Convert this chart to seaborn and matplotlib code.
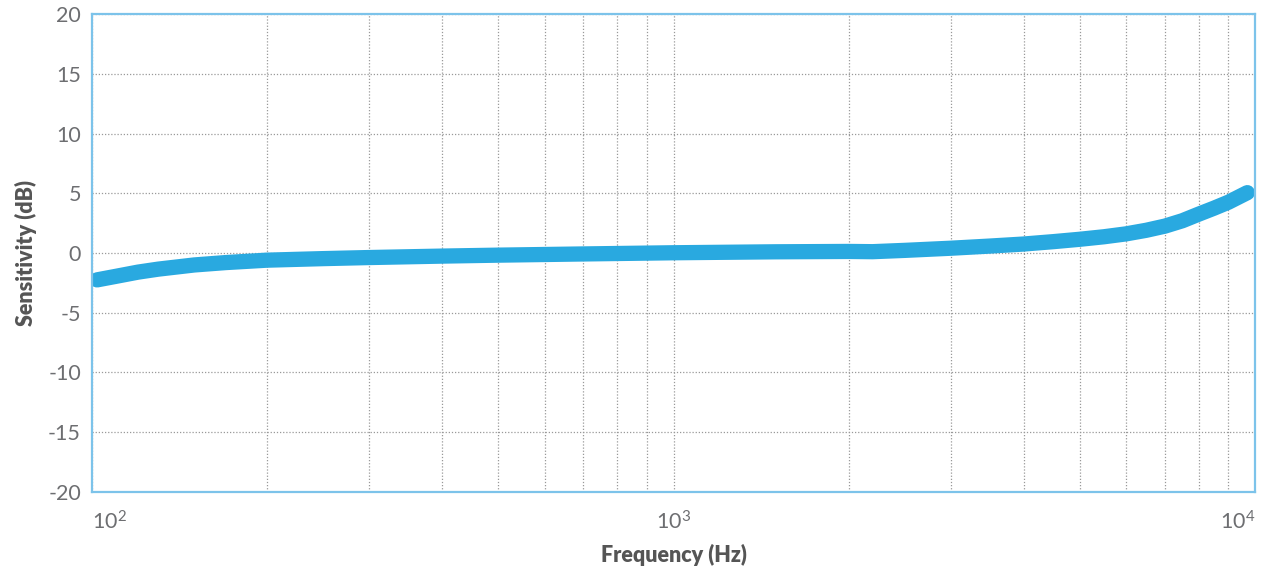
import numpy as np
import pandas as pd
import matplotlib
matplotlib.use("Agg")
import matplotlib.pyplot as plt
import matplotlib.ticker as mticker
import seaborn as sns

# frequency response
freq_hz = [102, 110, 120, 130, 150, 170, 200, 250, 300, 400, 500, 700, 1000,
           1500, 2000, 2200, 2500, 3000, 3500, 4000, 4500, 5000, 5500, 6000,
           6500, 7000, 7500, 8000, 8500, 9000, 9700]
sens_db = [-2.25, -1.95, -1.6, -1.35, -1.0, -0.8, -0.6, -0.47, -0.38, -0.26, -0.18,
           -0.08, 0.02, 0.1, 0.13, 0.11, 0.22, 0.4, 0.58, 0.75, 0.95, 1.15, 1.36,
           1.6, 1.9, 2.25, 2.7, 3.25, 3.75, 4.25, 5.05]

y_ticks = [-20, -15, -10, -5, 0, 5, 10, 15, 20]
x_ticks = [100, 1000, 10000]
x_tick_labels = ["$10^2$", "$10^3$", "$10^4$"]

df = pd.DataFrame({"freq": freq_hz, "sens": sens_db})

sns.set_theme(style="white")
plt.rcParams["font.family"] = ["Lato", "DejaVu Sans"]
plt.rcParams["mathtext.fontset"] = "custom"
plt.rcParams["mathtext.rm"] = "Lato"
plt.rcParams["mathtext.it"] = "Lato"
plt.rcParams["axes.unicode_minus"] = False

fig = plt.figure(figsize=(12.64, 5.67), dpi=100)
ax = fig.add_axes([0.0728, 0.1323, 0.9201, 0.843])

sns.lineplot(data=df, x="freq", y="sens", ax=ax, color="#29a9e0",
             linewidth=11, solid_capstyle="round", solid_joinstyle="round")

ax.set_xscale("log")
ax.set_xlim(100, 10000)
ax.set_ylim(-20, 20)
ax.set_yticks(y_ticks)
ax.set_xticks(x_ticks)
ax.set_xticklabels(x_tick_labels)
ax.xaxis.set_minor_locator(mticker.LogLocator(base=10, subs=np.arange(2, 10)))
ax.xaxis.set_minor_formatter(mticker.NullFormatter())

for lab, ha in zip(ax.get_xticklabels(), ["left", "center", "right"]):
    lab.set_horizontalalignment(ha)

ax.grid(True, which="both", axis="x", color="#999999", linestyle=(0, (1, 1.5)), linewidth=0.9)
ax.grid(True, which="major", axis="y", color="#999999", linestyle=(0, (1, 1.5)), linewidth=0.9)

ax.tick_params(axis="both", which="both", length=0, labelsize=15.5, labelcolor="#6d6e71")
ax.tick_params(axis="x", pad=13)
ax.tick_params(axis="y", pad=8)

for sp in ax.spines.values():
    sp.set_color("#7cc3ea")
    sp.set_linewidth(1.6)

ax.set_xlabel("Frequency (Hz)", fontsize=15.5, fontweight="heavy", color="#555555", labelpad=8)
ax.set_ylabel("Sensitivity (dB)", fontsize=15.5, fontweight="heavy", color="#555555", labelpad=8)

fig.savefig("out.png", dpi=100)
